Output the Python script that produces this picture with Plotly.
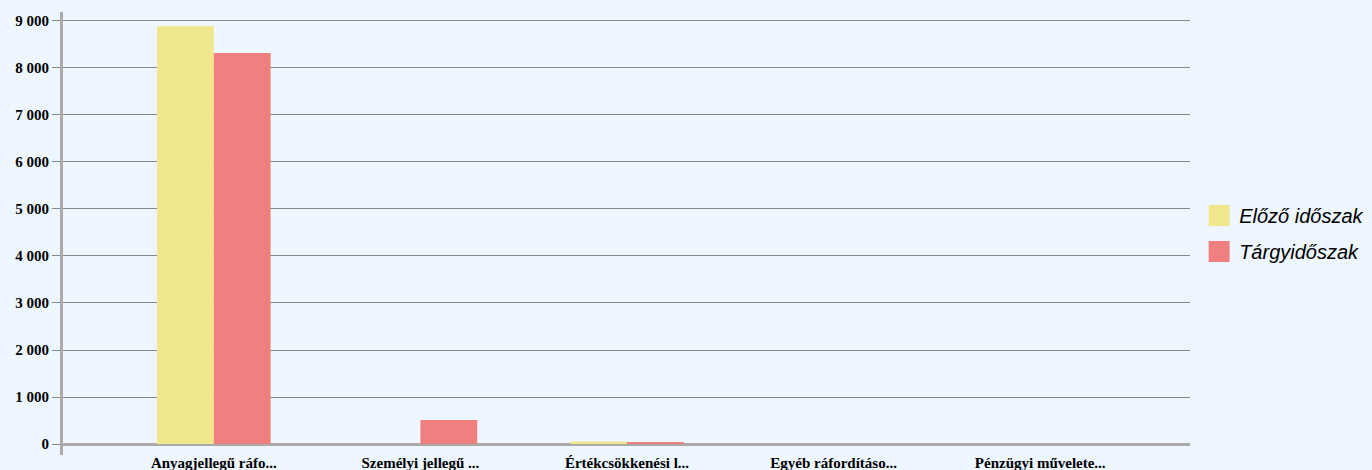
import plotly.graph_objects as go

categories = ["Anyagjellegű ráfo...", "Személyi jellegű ...", "Értékcsökkenési l...",
              "Egyéb ráfordításo...", "Pénzügyi művelete..."]
elozo = [8890, 0, 55, 0, 0]
targy = [8320, 510, 40, 0, 0]
y_ticks = [0, 1000, 2000, 3000, 4000, 5000, 6000, 7000, 8000, 9000]
series_names = ["Előző időszak", "Tárgyidőszak"]
series_colors = ["#F0E68C", "#F08080"]

bg = "#EEF6FF"
serif_bold = dict(family="Liberation Serif", size=15, color="black", weight="bold")

fig = go.Figure()
for name, vals, col in zip(series_names, [elozo, targy], series_colors):
    fig.add_trace(go.Bar(x=categories, y=vals, name=name, showlegend=False,
                         marker=dict(color=col, line=dict(width=0))))

# legend entries with bigger swatches than the bar legend allows
for i, (name, col) in enumerate(zip(series_names, series_colors)):
    fig.add_trace(go.Scatter(x=[None], y=[None], mode="markers", name=name,
                             legendgroup=str(i),
                             marker=dict(symbol="square", size=16, color=col,
                                         line=dict(color=col, width=5))))

fig.update_layout(
    width=1372, height=470,
    margin=dict(l=63, r=182, t=12, b=15),
    paper_bgcolor=bg, plot_bgcolor=bg,
    barmode="group", bargap=0.45, bargroupgap=0,
    separators=", ",
    legend=dict(xref="container", x=0.874, y=0.5, yanchor="middle", xanchor="left",
                font=dict(family="Liberation Sans", size=20, color="black", style="italic"),
                tracegroupgap=7),
)
fig.update_xaxes(
    range=[-0.73, 4.725], showline=False, showgrid=False, ticks="",
    tickfont=serif_bold, automargin=False, ticklabelstandoff=-3,
)
fig.update_yaxes(
    range=[-234, 9191], tickvals=y_ticks, tickformat=",d",
    showline=True, linecolor="#AAAAAA", linewidth=3,
    showgrid=True, gridcolor="#888888", gridwidth=1,
    zeroline=True, zerolinecolor="#AAAAAA", zerolinewidth=3,
    ticks="outside", ticklen=8, tickcolor="#888888",
    tickfont=serif_bold, automargin=False,
)

# page body margin would push the figure 8px down/right
fig.write_html("out.html", config={"displayModeBar": False},
               post_script="document.body.style.margin='0';")
